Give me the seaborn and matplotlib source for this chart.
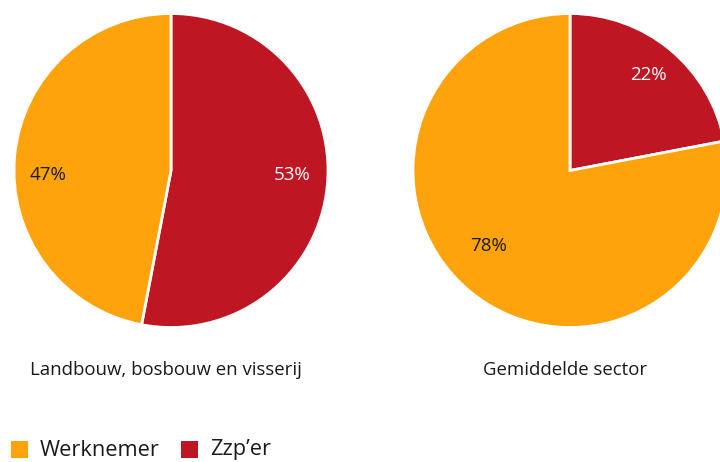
import matplotlib
matplotlib.use("Agg")
import matplotlib.pyplot as plt
import seaborn as sns
from matplotlib.patches import Rectangle

sns.set_theme(style="white")
plt.rcParams['font.family'] = ['Open Sans', 'DejaVu Sans']

series = ["Zzp\u2019er", "Werknemer"]
colors = ["#BE1622", "#FFA30D"]
sectors = ["Landbouw, bosbouw en visserij", "Gemiddelde sector"]
zzp = [53, 22]
werknemer = [47, 78]

W, H = 720, 462
fig = plt.figure(figsize=(W / 100, H / 100), dpi=100)

centers = [(171, 170.5), (570, 170.5)]
R = 157
label_pos = [
    [(0.77, -0.03), (-0.78, -0.03)],
    [(0.50, 0.61), (-0.52, -0.48)],
]

for i, (cx, cy) in enumerate(centers):
    ax = fig.add_axes([(cx - R) / W, (H - cy - R) / H, 2 * R / W, 2 * R / H])
    vals = [zzp[i], werknemer[i]]
    wedges, texts, autotexts = ax.pie(
        vals, colors=colors, startangle=90, counterclock=False,
        autopct=lambda p: f"{p:.0f}%", pctdistance=0.78,
        wedgeprops=dict(edgecolor="white", linewidth=2),
        textprops=dict(fontsize=13.5),
    )
    for j, t in enumerate(autotexts):
        t.set_position(label_pos[i][j])
        t.set_color("white" if j == 0 else "#1a1a1a")
        t.set_ha("center"); t.set_va("center")
    ax.set_xlim(-1, 1); ax.set_ylim(-1, 1)
    ax.set_aspect("auto")
    ax.axis("off")
    fig.text(cx / W - 5 / W, 1 - 370 / H, sectors[i], ha="center", va="center",
             fontsize=13.4, color="#1a1a1a")

# legend
legend_items = [("Werknemer", colors[1], 11), ("Zzp\u2019er", colors[0], 181)]
for name, col, x0 in legend_items:
    fig.patches.append(Rectangle((x0 / W, 1 - 458 / H), 17 / W, 17 / H,
                                 transform=fig.transFigure, facecolor=col,
                                 edgecolor="none"))
    fig.text((x0 + 29) / W, 1 - 450 / H, name, ha="left", va="center",
             fontsize=15.7, color="#1a1a1a")

fig.savefig("out.png", dpi=100)
